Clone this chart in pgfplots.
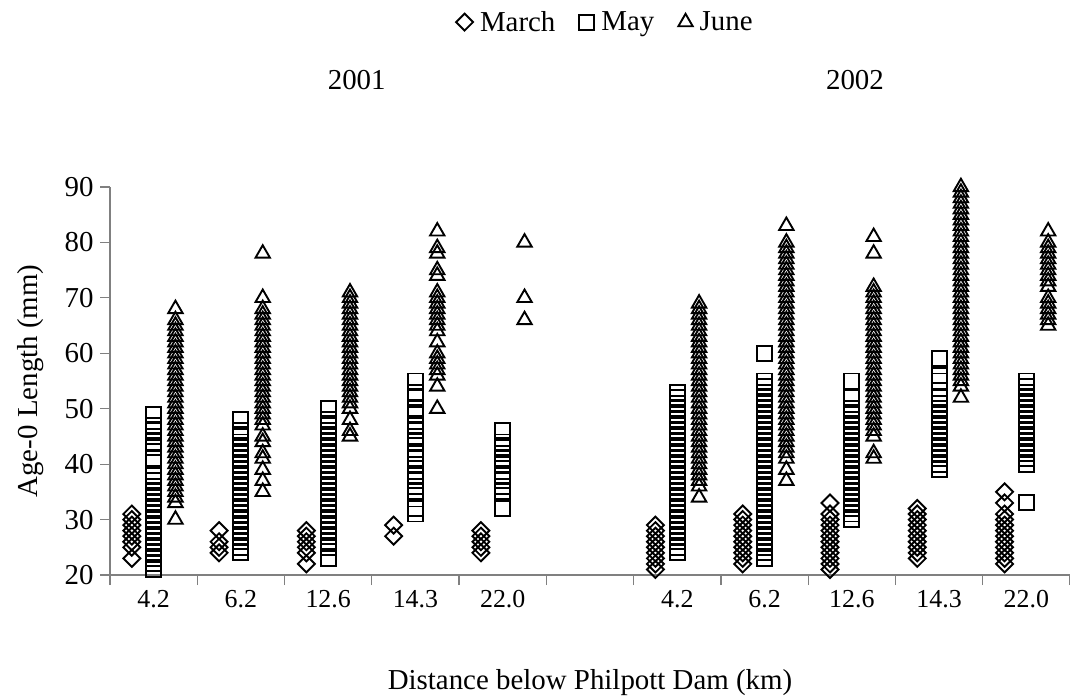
\documentclass[border=0pt]{standalone}
\usepackage{fontspec}
\setmainfont{Liberation Serif}
\usepackage{pgfplots}
\pgfplotsset{compat=1.18}

\newcommand\bigf{\fontsize{29}{33}\selectfont}
\newcommand\tickf{\fontsize{26}{30}\selectfont}

\begin{document}
\begin{tikzpicture}
\path[use as bounding box] (0,0) rectangle (1070bp,700bp);
\begin{axis}[
  at={(110bp,125bp)}, anchor=south west,
  scale only axis, width=960bp, height=388bp,
  xmin=0.5, xmax=11.5, ymin=20, ymax=90,
  clip=false,
  axis lines*=left,
  axis line style={draw=gray, line width=1.2bp},
  tick align=outside,
  major tick length=10bp,
  tick style={draw=gray, line width=1.2bp},
  xtick={0.5,1.5,2.5,3.5,4.5,5.5,6.5,7.5,8.5,9.5,10.5,11.5},
  xticklabels={4.2,6.2,12.6,14.3,22.0,,4.2,6.2,12.6,14.3,22.0,},
  xticklabel style={font=\tickf, xshift=43.64bp, yshift=-2bp},
  ytick={20,30,...,90},
  /pgf/number format/assume math mode=true,
  yticklabel style={font=\bigf, xshift=-3bp},
  xlabel={Distance below Philpott Dam (km)},
  ylabel={Age-0 Length (mm)},
  every axis x label/.style={at={(axis description cs:0.5,-0.276)}, anchor=center, font=\bigf},
  every axis y label/.style={at={(axis description cs:-0.083,0.5)}, anchor=center, rotate=90, font=\bigf},
  legend style={at={(axis description cs:0.516,1.425)}, anchor=center, draw=none, fill=none,
    font=\bigf, legend columns=3,
    /tikz/every even column/.append style={column sep=22bp},
    /tikz/every odd column/.append style={column sep=5bp}},
  legend cell align=left,
]
% March
\addplot[only marks, mark=square, mark size=6bp, mark options={rotate=45, draw=black, line width=1.9bp, fill=none}]
coordinates {
(0.75,23)(0.75,25)(0.75,26)(0.75,27)(0.75,28)(0.75,29)(0.75,30)(0.75,31)
(1.75,24)(1.75,25)(1.75,26)(1.75,28)
(2.75,22)(2.75,24)(2.75,25)(2.75,26)(2.75,27)(2.75,28)
(3.75,27)(3.75,29)
(4.75,24)(4.75,25)(4.75,26)(4.75,27)(4.75,28)
(6.75,21)(6.75,22)(6.75,23)(6.75,24)(6.75,25)(6.75,26)(6.75,27)(6.75,28)(6.75,29)
(7.75,22)(7.75,23)(7.75,24)(7.75,25)(7.75,26)(7.75,27)(7.75,28)(7.75,29)(7.75,30)(7.75,31)
(8.75,21)(8.75,22)(8.75,23)(8.75,24)(8.75,25)(8.75,26)(8.75,27)(8.75,28)(8.75,29)(8.75,30)(8.75,31)(8.75,33)
(9.75,23)(9.75,24)(9.75,25)(9.75,26)(9.75,27)(9.75,28)(9.75,29)(9.75,30)(9.75,31)(9.75,32)
(10.75,22)(10.75,23)(10.75,24)(10.75,25)(10.75,26)(10.75,27)(10.75,28)(10.75,29)(10.75,30)(10.75,31)(10.75,33)(10.75,35)
};
\addlegendentry{March}
% May
\addplot[only marks, mark=square, mark size=7.5bp, mark options={draw=black, line width=1.9bp, fill=none}]
coordinates {
(1,21)(1,22)(1,23)(1,24)(1,25)(1,26)(1,27)(1,28)(1,29)(1,30)(1,31)(1,32)(1,33)(1,34)(1,35)(1,36)(1,37)(1,38)
(1,41)(1,43)(1,44)(1,45)(1,46)(1,47)(1,49)
(2,24)(2,25)(2,26)(2,27)(2,28)(2,29)(2,30)(2,31)(2,32)(2,33)(2,34)(2,35)(2,36)(2,37)(2,38)(2,39)(2,40)
(2,41)(2,42)(2,43)(2,44)(2,45)(2,46)(2,48)
(3,23)(3,25)(3,26)(3,27)(3,28)(3,29)(3,30)(3,31)(3,32)(3,33)(3,34)(3,35)(3,36)(3,37)(3,38)(3,39)(3,40)
(3,41)(3,42)(3,43)(3,44)(3,45)(3,46)(3,47)(3,48)(3,50)
(4,31)(4,32)(4,35)(4,36)(4,37)(4,38)(4,40)(4,41)(4,42)(4,44)(4,45)(4,46)(4,47)(4,49)(4,50)(4,52)(4,53)(4,55)
(5,32)(5,35)(5,36)(5,37)(5,38)(5,40)(5,41)(5,42)(5,43)(5,44)(5,46)
(7,24)(7,25)(7,26)(7,27)(7,28)(7,29)(7,30)(7,31)(7,32)(7,33)(7,34)(7,35)(7,36)(7,37)(7,38)(7,39)(7,40)
(7,41)(7,42)(7,43)(7,44)(7,45)(7,46)(7,47)(7,48)(7,49)(7,50)(7,51)(7,52)(7,53)
(8,23)(8,24)(8,25)(8,26)(8,27)(8,28)(8,29)(8,30)(8,31)(8,32)(8,33)(8,34)(8,35)(8,36)(8,37)(8,38)(8,39)(8,40)
(8,41)(8,42)(8,43)(8,44)(8,45)(8,46)(8,47)(8,48)(8,49)(8,50)(8,51)(8,52)(8,53)(8,54)(8,55)(8,60)
(9,30)(9,31)(9,32)(9,33)(9,34)(9,35)(9,36)(9,37)(9,38)(9,39)(9,40)
(9,41)(9,42)(9,43)(9,44)(9,45)(9,46)(9,47)(9,48)(9,49)(9,50)(9,52)(9,55)
(10,39)(10,40)(10,41)(10,42)(10,43)(10,44)(10,45)(10,46)(10,47)(10,48)(10,49)(10,50)(10,51)(10,52)(10,55)(10,56)(10,59)
(11,33)(11,40)(11,41)(11,42)(11,43)(11,44)(11,45)(11,46)(11,47)(11,48)(11,49)(11,50)(11,51)(11,52)(11,53)(11,54)(11,55)
};
\addlegendentry{May}
% June
\addplot[only marks, mark=triangle, mark size=8.3bp, mark options={draw=black, line width=1.9bp, fill=none}]
coordinates {
(1.25,30)(1.25,33)(1.25,34)(1.25,35)(1.25,36)(1.25,37)(1.25,38)(1.25,39)(1.25,40)(1.25,41)(1.25,42)(1.25,43)(1.25,44)
(1.25,45)(1.25,46)(1.25,47)(1.25,48)(1.25,49)(1.25,50)(1.25,51)(1.25,52)(1.25,53)(1.25,54)(1.25,55)(1.25,56)(1.25,57)
(1.25,58)(1.25,59)(1.25,60)(1.25,61)(1.25,62)(1.25,63)(1.25,64)(1.25,65)(1.25,66)(1.25,68)
(2.25,35)(2.25,37)(2.25,39)(2.25,41)(2.25,42)(2.25,44)(2.25,45)(2.25,47)(2.25,48)(2.25,49)(2.25,50)(2.25,51)(2.25,52)
(2.25,53)(2.25,54)(2.25,55)(2.25,56)(2.25,57)(2.25,58)(2.25,59)(2.25,60)(2.25,61)(2.25,62)(2.25,63)(2.25,64)(2.25,65)
(2.25,66)(2.25,67)(2.25,68)(2.25,70)(2.25,78)
(3.25,45)(3.25,46)(3.25,48)(3.25,50)(3.25,51)(3.25,52)(3.25,53)(3.25,54)(3.25,55)(3.25,56)(3.25,57)(3.25,58)(3.25,59)
(3.25,60)(3.25,61)(3.25,62)(3.25,63)(3.25,64)(3.25,65)(3.25,66)(3.25,67)(3.25,68)(3.25,69)(3.25,70)(3.25,71)
(4.25,50)(4.25,54)(4.25,56)(4.25,57)(4.25,58)(4.25,59)(4.25,60)(4.25,62)(4.25,64)(4.25,65)(4.25,66)(4.25,67)(4.25,68)
(4.25,69)(4.25,70)(4.25,71)(4.25,74)(4.25,75)(4.25,78)(4.25,79)(4.25,82)
(5.25,66)(5.25,70)(5.25,80)
(7.25,34)(7.25,36)(7.25,37)(7.25,38)(7.25,39)(7.25,40)(7.25,41)(7.25,42)(7.25,43)(7.25,44)(7.25,45)(7.25,46)(7.25,47)
(7.25,48)(7.25,49)(7.25,50)(7.25,51)(7.25,52)(7.25,53)(7.25,54)(7.25,55)(7.25,56)(7.25,57)(7.25,58)(7.25,59)(7.25,60)
(7.25,61)(7.25,62)(7.25,63)(7.25,64)(7.25,65)(7.25,66)(7.25,67)(7.25,68)(7.25,69)
(8.25,37)(8.25,39)(8.25,41)(8.25,42)(8.25,43)(8.25,44)(8.25,45)(8.25,46)(8.25,47)(8.25,48)(8.25,49)(8.25,50)(8.25,51)
(8.25,52)(8.25,53)(8.25,54)(8.25,55)(8.25,56)(8.25,57)(8.25,58)(8.25,59)(8.25,60)(8.25,61)(8.25,62)(8.25,63)(8.25,64)
(8.25,65)(8.25,66)(8.25,67)(8.25,68)(8.25,69)(8.25,70)(8.25,71)(8.25,72)(8.25,73)(8.25,74)(8.25,75)(8.25,76)(8.25,77)
(8.25,78)(8.25,79)(8.25,80)(8.25,83)
(9.25,41)(9.25,42)(9.25,45)(9.25,46)(9.25,47)(9.25,48)(9.25,49)(9.25,50)(9.25,51)(9.25,52)(9.25,53)(9.25,54)(9.25,55)
(9.25,56)(9.25,57)(9.25,58)(9.25,59)(9.25,60)(9.25,61)(9.25,62)(9.25,63)(9.25,64)(9.25,65)(9.25,66)(9.25,67)(9.25,68)
(9.25,69)(9.25,70)(9.25,71)(9.25,72)(9.25,78)(9.25,81)
(10.25,52)(10.25,54)(10.25,55)(10.25,56)(10.25,57)(10.25,58)(10.25,59)(10.25,60)(10.25,61)(10.25,62)(10.25,63)(10.25,64)
(10.25,65)(10.25,66)(10.25,67)(10.25,68)(10.25,69)(10.25,70)(10.25,71)(10.25,72)(10.25,73)(10.25,74)(10.25,75)(10.25,76)
(10.25,77)(10.25,78)(10.25,79)(10.25,80)(10.25,81)(10.25,82)(10.25,83)(10.25,84)(10.25,85)(10.25,86)(10.25,87)(10.25,88)
(10.25,89)(10.25,90)
(11.25,65)(11.25,66)(11.25,67)(11.25,68)(11.25,69)(11.25,70)(11.25,72)(11.25,73)(11.25,74)(11.25,75)(11.25,76)(11.25,77)
(11.25,78)(11.25,79)(11.25,80)(11.25,82)
};
\addlegendentry{June}
\node[font=\bigf] at (axis description cs:0.257,1.276) {2001};
\node[font=\bigf] at (axis description cs:0.776,1.276) {2002};
\end{axis}
\end{tikzpicture}
\end{document}
